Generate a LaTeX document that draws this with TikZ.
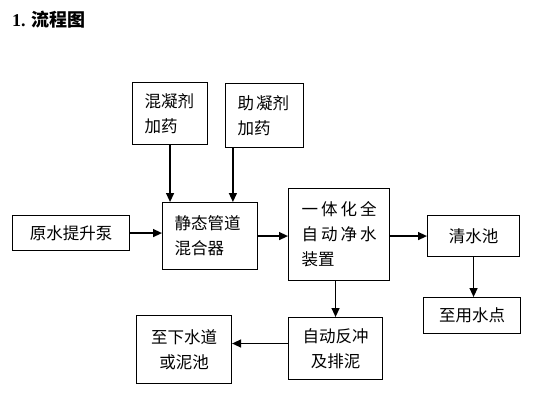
\documentclass[tikz,border=0pt]{standalone}
\usepackage{fontspec}
\setmainfont{Liberation Serif}
\newfontfamily\cjk{Noto Sans CJK SC}
\usetikzlibrary{arrows.meta,calc}
\newcommand\lsgap{\hspace{3pt}}
\tikzset{
  box/.style={draw=black, line width=1.1pt, fill=white, font=\cjk\fontsize{16.5}{25}\selectfont, inner sep=0pt, anchor=north west},
  lbox/.style={box, align=left},
  cbox/.style={box, align=center},
  arr/.style={line width=1.3pt, -{Triangle[length=9pt,width=8pt]}}
}
\begin{document}
\begin{tikzpicture}[x=1pt,y=-1pt]
\useasboundingbox (0,0) rectangle (536,392);
\node[anchor=base west, inner sep=0pt, font=\fontsize{18}{20}\selectfont\bfseries] (title) at (12,26) {1. {\cjk 流程图}};
\node[lbox, minimum width=75pt, minimum height=62pt, text width=51pt] (hnj) at (132,82) {混凝剂\\加药};
\node[lbox, minimum width=78pt, minimum height=64pt, text width=54pt] (znj) at (225,83) {助\hspace{2pt}凝剂\\加药};
\node[cbox, minimum width=117pt, minimum height=35pt] (pump) at (12,215) {原水提升泵};
\node[lbox, minimum width=95pt, minimum height=67pt, text width=71pt] (mixer) at (162,202) {静态管道\\混合器};
\node[lbox, minimum width=101pt, minimum height=92pt, text width=75pt] (unit) at (288,188) {一\lsgap 体\lsgap 化\lsgap 全\\自\lsgap 动\lsgap 净\lsgap 水\\装置};
\node[cbox, minimum width=92pt, minimum height=41pt] (clear) at (427,215) {清水池};
\node[cbox, minimum width=97pt, minimum height=36pt] (point) at (423,297) {至用水点};
\node[cbox, minimum width=94pt, minimum height=62pt] (back) at (288,317) {自动反冲\\及排泥};
\node[cbox, minimum width=95pt, minimum height=68pt] (sewer) at (136,315) {至下水道\\或泥池};
\coordinate (zs) at ($(znj.south west)!0.1!(znj.south east)$);
\draw[arr] (hnj.south) -- (hnj.south |- mixer.north);
\draw[arr] (zs) -- (zs |- mixer.north);
\draw[arr] (pump.east) -- (pump.east -| mixer.west);
\draw[arr] (mixer.east) -- (mixer.east -| unit.west);
\draw[arr] (clear.west -| unit.east) -- (clear.west);
\draw[arr] (clear.south) -- (clear.south |- point.north);
\draw[arr] (back.north |- unit.south) -- (back.north);
\coordinate (bw) at ($(back.north west)!0.42!(back.south west)$);
\draw[arr] (bw) -- (bw -| sewer.east);
\end{tikzpicture}
\end{document}
